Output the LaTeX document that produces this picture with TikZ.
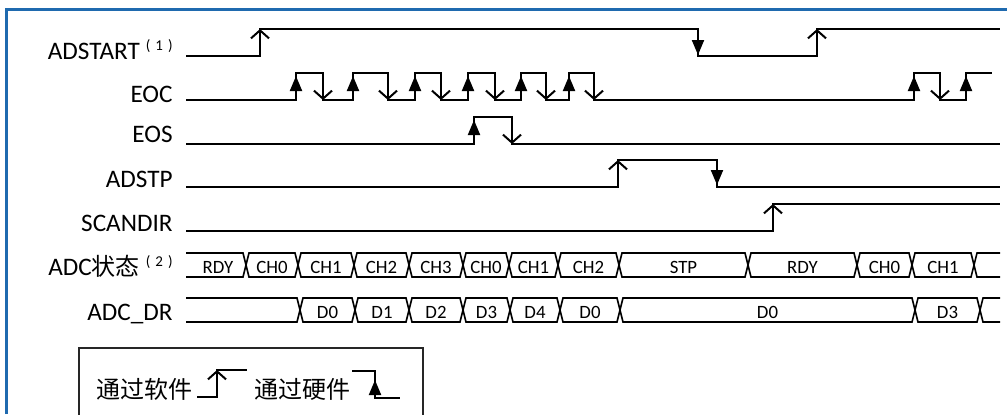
\documentclass[tikz,border=0pt]{standalone}
\usepackage{fontspec}
\setmainfont{Carlito}
\newfontfamily\cjk{Noto Sans CJK SC}
\usepackage{xcolor}
\usetikzlibrary{arrows.meta}
\definecolor{frameblue}{RGB}{31,106,175}

\begin{document}
\begin{tikzpicture}[
    x=0.5pt, y=-0.5pt,
    sig/.style={line width=1pt, line join=miter},
    sw/.style={line width=1pt, -{Straight Barb[length=4pt, width=9pt]}},
    hw/.style={line width=1pt, -{Triangle[length=7.5pt, width=6pt]}},
    bus/.style={line width=0.8pt},
    lbl/.style={anchor=base east, inner sep=0pt, font=\fontsize{12.6}{14}\selectfont},
    val/.style={inner sep=0pt, font=\fontsize{9.4}{10}\selectfont},
    note/.style={inner sep=0pt, font=\cjk\fontsize{12}{14}\selectfont}
]
\useasboundingbox (0,0) rectangle (1007,414);

% Frame
\draw[frameblue, line width=1.5pt] (6,414) -- (6,9) -- (1007,9);

% Signal names
\node[lbl] (adstart) at (173,59) {ADSTART\hspace{3pt}\raisebox{4.5pt}{\fontsize{7.5}{8}\selectfont(\hspace{2.5pt}1\hspace{2.5pt})}};
\node[lbl] (eoc) at (173,102) {EOC};
\node[lbl] (eos) at (173,142) {EOS};
\node[lbl] (adstp) at (173,187) {ADSTP};
\node[lbl] (scandir) at (173,231) {SCANDIR};
\node[lbl] (adcstate) at (173,275) {ADC{\cjk\fontsize{12}{14}\selectfont 状态}\hspace{3pt}\raisebox{4.5pt}{\fontsize{7.5}{8}\selectfont(\hspace{2.5pt}2\hspace{2.5pt})}};
\node[lbl] (adcdr) at (173,320) {ADC\_DR};

% ADSTART
\draw[sig] (186,56) -- (260,56) -- (260,29) -- (698,29) -- (698,56) -- (817,56) -- (817,29) -- (1000,29);
\draw[sw] (260,56) -- (260,29);
\draw[hw] (698,29) -- (698,55);
\draw[sw] (817,56) -- (817,29);

% EOC
\draw[sig] (186,100) -- (296,100) -- (296,73) -- (323,73) -- (323,100) -- (353,100) -- (353,73) -- (388,73) -- (388,100)
    -- (415,100) -- (415,73) -- (441,73) -- (441,100) -- (468,100) -- (468,73) -- (495,73) -- (495,100)
    -- (521,100) -- (521,73) -- (546,73) -- (546,100) -- (569,100) -- (569,73) -- (594,73) -- (594,100)
    -- (914,100) -- (914,73) -- (940,73) -- (940,100) -- (966,100) -- (966,73) -- (992,73);
\foreach \r/\f in {296/323, 353/388, 415/441, 468/495, 521/546, 569/594, 914/940} {
    \draw[hw] (\r,100) -- (\r,76);
    \draw[sw] (\f,73) -- (\f,100);
}
\draw[hw] (966,100) -- (966,76);

% EOS
\draw[sig] (186,144) -- (474,144) -- (474,117) -- (512,117) -- (512,144) -- (1000,144);
\draw[hw] (474,144) -- (474,120);
\draw[sw] (512,117) -- (512,144);

% ADSTP
\draw[sig] (186,187) -- (618,187) -- (618,160) -- (717,160) -- (717,187) -- (1000,187);
\draw[sw] (618,187) -- (618,160);
\draw[hw] (717,160) -- (717,185);

% SCANDIR
\draw[sig] (186,231) -- (773,231) -- (773,204) -- (1000,204);
\draw[sw] (773,231) -- (773,204);

% ADC state bus
\draw[bus] (186,253) -- (243,253) -- (246,265) -- (243,277) -- (186,277);
\node[val] (st0) at (218,267) {RDY};
\foreach \a/\b/\t [count=\i] in {246/298/CH0, 298/354/CH1, 354/409/CH2, 409/463/CH3, 463/509/CH0, 509/558/CH1,
        558/619/CH2, 619/748/STP, 748/857/RDY, 857/912/CH0, 912/974/CH1} {
    \draw[bus] (\a,265) -- (\a+3,253) -- (\b-3,253) -- (\b,265) -- (\b-3,277) -- (\a+3,277) -- cycle;
    \node[val] (st\i) at ({(\a+\b)/2},267) {\t};
}
\draw[bus] (1000,253) -- (977,253) -- (974,265) -- (977,277) -- (1000,277);

% ADC_DR bus
\draw[bus] (186,298) -- (297,298) -- (300,310) -- (297,322) -- (186,322);
\foreach \a/\b/\t [count=\i] in {300/355/D0, 355/409/D1, 409/463/D2, 463/510/D3, 510/560/D4, 560/620/D0,
        620/915/D0, 915/980/D3} {
    \draw[bus] (\a,310) -- (\a+3,298) -- (\b-3,298) -- (\b,310) -- (\b-3,322) -- (\a+3,322) -- cycle;
    \node[val] (dr\i) at ({(\a+\b)/2},312) {\t};
}
\draw[bus] (1000,298) -- (983,298) -- (980,310) -- (983,322) -- (1000,322);

% Legend
\draw[line width=0.7pt, black!85] (79,348) rectangle (423,440);
\node[note] (soft) at (144,389) {通过软件};
\draw[sig] (197,397) -- (217,397) -- (217,370) -- (247,370);
\draw[sw] (217,397) -- (217,370);
\node[note] (hard) at (302,389) {通过硬件};
\draw[sig] (352,371) -- (375,371) -- (375,398) -- (400,398);
\draw[hw] (375,398) -- (375,380);

\end{tikzpicture}
\end{document}
